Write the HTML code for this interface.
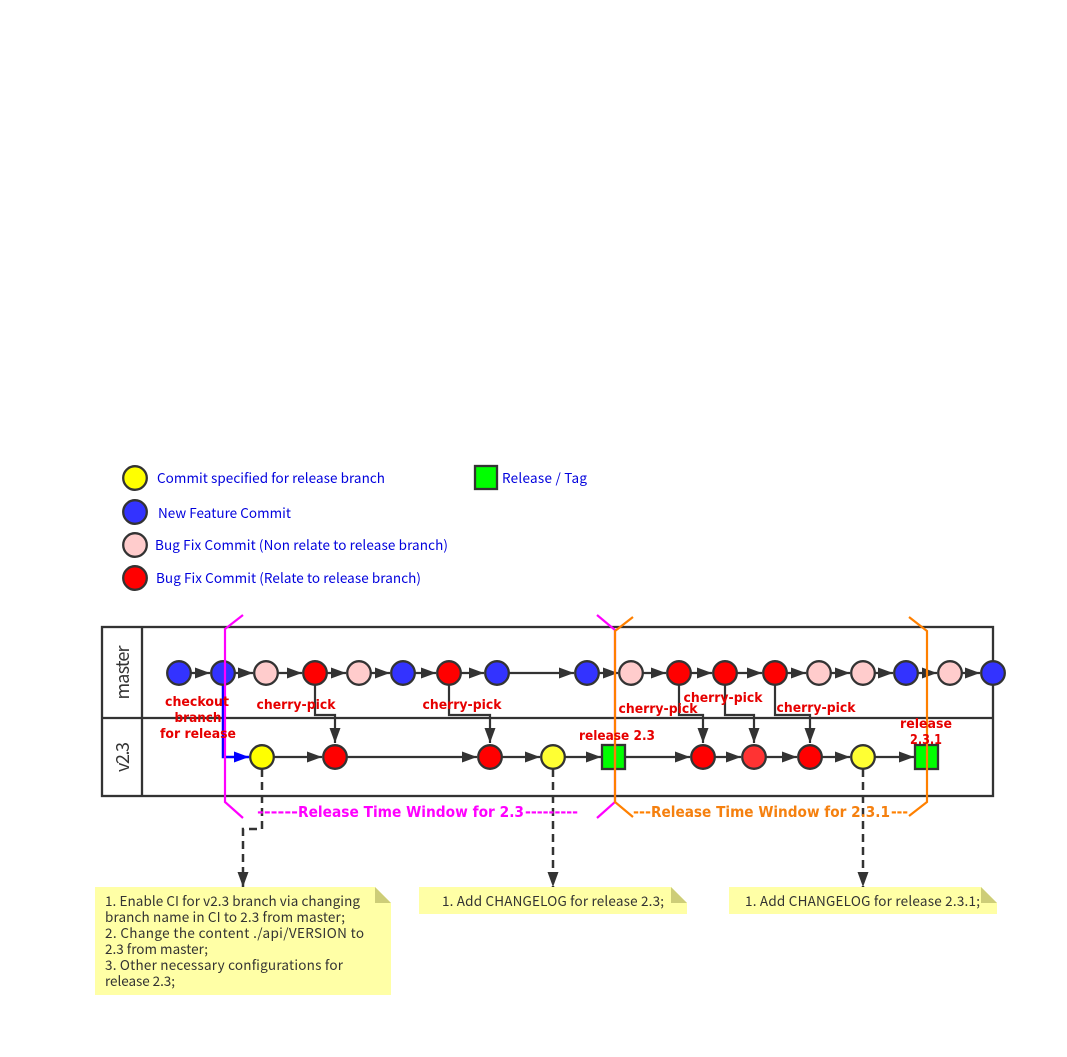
<!DOCTYPE html>
<html><head><meta charset="utf-8"><style>
html,body{margin:0;padding:0;background:#fff}
svg{display:block}
text{font-family:"DejaVu Sans","Liberation Sans",sans-serif}
.l{font-family:"Noto Sans CJK SC","DejaVu Sans",sans-serif;font-size:13.500px;fill:#0000dd}
.b{font-size:13.500px;font-weight:bold;fill:#e60000;text-anchor:middle}
.n{font-family:"Noto Sans CJK SC","DejaVu Sans",sans-serif;font-size:13.500px;fill:#333}
.e{stroke:#333;stroke-width:2.200;fill:none;marker-end:url(#a)}
.d{stroke:#333;stroke-width:2.500;fill:none;stroke-dasharray:8 5;marker-end:url(#a)}
.c{stroke:#333;stroke-width:2.300}
.w{font-size:15px;font-weight:bold}
</style></head><body>
<svg width="1067" height="1057" viewBox="0 0 1067 1057" xmlns="http://www.w3.org/2000/svg">
<defs>
<marker id="a" markerUnits="userSpaceOnUse" markerWidth="16" markerHeight="12" refX="15" refY="6" orient="auto"><path d="M0 .5L15 6L0 11.500z" fill="#333"/></marker>
<marker id="ab" markerUnits="userSpaceOnUse" markerWidth="16" markerHeight="12" refX="15" refY="6" orient="auto"><path d="M0 .5L15 6L0 11.500z" fill="#00f"/></marker>
</defs>

<!-- legend -->
<g class="c">
<circle cx="135" cy="478" r="11.800" fill="#ff0"/>
<circle cx="135" cy="512" r="11.800" fill="#33f"/>
<circle cx="135" cy="545" r="11.800" fill="#fcc"/>
<circle cx="135" cy="578" r="11.800" fill="#f00"/>
<rect x="475" y="466" width="22" height="23" fill="#0f0"/>
</g>
<text class="l" x="157" y="483" textLength="228" lengthAdjust="spacing">Commit specified for release branch</text>
<text class="l" x="158" y="518" textLength="133" lengthAdjust="spacing">New Feature Commit</text>
<text class="l" x="155" y="550" textLength="293" lengthAdjust="spacing">Bug Fix Commit (Non relate to release branch)</text>
<text class="l" x="156" y="583" textLength="265" lengthAdjust="spacing">Bug Fix Commit (Relate to release branch)</text>
<text class="l" x="502" y="483" textLength="85" lengthAdjust="spacing">Release / Tag</text>

<!-- pool -->
<g fill="none" stroke="#333" stroke-width="2.300">
<rect x="102" y="627" width="891" height="169"/>
<path d="M142 627V796M102 718H993"/>
</g>
<text transform="translate(129 672.500) rotate(-90)" text-anchor="middle" fill="#333" style="font-family:'Noto Sans CJK SC','DejaVu Sans',sans-serif;font-size:18px" textLength="54" lengthAdjust="spacing">master</text>
<text transform="translate(129 757) rotate(-90)" text-anchor="middle" fill="#333" style="font-family:'Noto Sans CJK SC','DejaVu Sans',sans-serif;font-size:18px" textLength="30" lengthAdjust="spacing">v2.3</text>

<!-- master edges -->
<path class="e" d="M191 673H210"/><path class="e" d="M235 673H253"/><path class="e" d="M278 673H302"/>
<path class="e" d="M327 673H346"/><path class="e" d="M371 673H390"/><path class="e" d="M415 673H436"/>
<path class="e" d="M461 673H484"/><path class="e" d="M509 673H574"/><path class="e" d="M599 673H618"/>
<path class="e" d="M643 673H666"/><path class="e" d="M691 673H712"/><path class="e" d="M737 673H762"/>
<path class="e" d="M787 673H806"/><path class="e" d="M831 673H850"/><path class="e" d="M875 673H893"/>
<path class="e" d="M918 673H937"/><path class="e" d="M962 673H980"/>
<!-- v2.3 edges -->
<path class="e" d="M274 757H322"/><path class="e" d="M347 757H477"/><path class="e" d="M502 757H540"/>
<path class="e" d="M565 757H601"/><path class="e" d="M625 757H690"/><path class="e" d="M715 757H741"/>
<path class="e" d="M766 757H797"/><path class="e" d="M822 757H850"/><path class="e" d="M875 757H914"/>
<!-- cherry-pick -->
<path class="e" d="M315 685V715H335V743"/><path class="e" d="M449 685V715H490V743"/>
<path class="e" d="M679 685V715H703V743"/><path class="e" d="M725 685V715H754V743"/>
<path class="e" d="M775 685V715H810V743"/>
<!-- branch -->
<path d="M223 685V757H249" fill="none" stroke="#00f" stroke-width="2.500" marker-end="url(#ab)"/>
<!-- dashed -->
<path class="d" d="M262 769V829H243V887"/><path class="d" d="M553 769V887"/><path class="d" d="M863 769V887"/>

<!-- nodes -->
<g class="c">
<circle cx="179" cy="673" r="11.800" fill="#33f"/><circle cx="223" cy="673" r="11.800" fill="#33f"/>
<circle cx="266" cy="673" r="11.800" fill="#fcc"/><circle cx="315" cy="673" r="11.800" fill="#f00"/>
<circle cx="359" cy="673" r="11.800" fill="#fcc"/><circle cx="403" cy="673" r="11.800" fill="#33f"/>
<circle cx="449" cy="673" r="11.800" fill="#f00"/><circle cx="497" cy="673" r="11.800" fill="#33f"/>
<circle cx="587" cy="673" r="11.800" fill="#33f"/><circle cx="631" cy="673" r="11.800" fill="#fcc"/>
<circle cx="679" cy="673" r="11.800" fill="#f00"/><circle cx="725" cy="673" r="11.800" fill="#f00"/>
<circle cx="775" cy="673" r="11.800" fill="#f00"/><circle cx="819" cy="673" r="11.800" fill="#fcc"/>
<circle cx="863" cy="673" r="11.800" fill="#fcc"/><circle cx="906" cy="673" r="11.800" fill="#33f"/>
<circle cx="950" cy="673" r="11.800" fill="#fcc"/><circle cx="993" cy="673" r="11.800" fill="#33f"/>
<circle cx="262" cy="757" r="11.800" fill="#ff0"/><circle cx="335" cy="757" r="11.800" fill="#f00"/>
<circle cx="490" cy="757" r="11.800" fill="#f00"/><circle cx="553" cy="757" r="11.800" fill="#ff3"/>
<rect x="602" y="745" width="23" height="24" fill="#0f0"/>
<circle cx="703" cy="757" r="11.800" fill="#f00"/><circle cx="754" cy="757" r="11.800" fill="#f33"/>
<circle cx="810" cy="757" r="11.800" fill="#f00"/><circle cx="863" cy="757" r="11.800" fill="#ff3"/>
<rect x="915" y="745" width="23" height="24" fill="#0f0"/>
</g>

<!-- window brackets -->
<g fill="none" stroke-width="2.200">
<path d="M243 615L225 629V802L243 818" stroke="#f0f"/>
<path d="M597 615L615 630V802L597 818" stroke="#f0f"/>
<path d="M633 617L615 631V802L633 817" stroke="#ff8000"/>
<path d="M909 617L927 631V802L909 816" stroke="#ff8000"/>
</g>

<!-- labels -->
<text class="b" x="197" y="706" textLength="64" lengthAdjust="spacingAndGlyphs">checkout</text>
<text class="b" x="198" y="722" textLength="47" lengthAdjust="spacingAndGlyphs">branch</text>
<text class="b" x="198" y="738" textLength="76" lengthAdjust="spacingAndGlyphs">for release</text>
<text class="b" x="296" y="709" textLength="79" lengthAdjust="spacingAndGlyphs">cherry-pick</text>
<text class="b" x="462" y="709" textLength="79" lengthAdjust="spacingAndGlyphs">cherry-pick</text>
<text class="b" x="658" y="713" textLength="79" lengthAdjust="spacingAndGlyphs">cherry-pick</text>
<text class="b" x="723" y="702" textLength="79" lengthAdjust="spacingAndGlyphs">cherry-pick</text>
<text class="b" x="816" y="712" textLength="79" lengthAdjust="spacingAndGlyphs">cherry-pick</text>
<text class="b" x="617" y="740" textLength="76" lengthAdjust="spacingAndGlyphs">release 2.3</text>
<text class="b" x="926" y="728" textLength="52" lengthAdjust="spacingAndGlyphs">release</text>
<text class="b" x="926" y="744" textLength="32" lengthAdjust="spacingAndGlyphs">2.3.1</text>
<text class="w" x="257" y="817" fill="#f0f" textLength="41" lengthAdjust="spacingAndGlyphs">------</text>
<text class="w" x="298" y="817" fill="#f0f" textLength="226" lengthAdjust="spacingAndGlyphs">Release Time Window for 2.3</text>
<text class="w" x="525" y="817" fill="#f0f" textLength="53" lengthAdjust="spacingAndGlyphs">---------</text>
<text class="w" x="633" y="817" fill="#ff8000" textLength="18" lengthAdjust="spacingAndGlyphs">---</text>
<text class="w" x="651" y="817" fill="#f5800f" textLength="239" lengthAdjust="spacingAndGlyphs">Release Time Window for 2.3.1</text>
<text class="w" x="891" y="817" fill="#ff8000" textLength="17" lengthAdjust="spacingAndGlyphs">---</text>

<!-- notes -->
<path d="M95 887H375L391 903V995H95z" fill="#ffffa6"/><path d="M375 887V903H391z" fill="#cdcd78"/>
<path d="M419 887H671L687 903V914H419z" fill="#ffffa6"/><path d="M671 887V903H687z" fill="#cdcd78"/>
<path d="M729 887H981L997 903V914H729z" fill="#ffffa6"/><path d="M981 887V903H997z" fill="#cdcd78"/>
<text class="n" x="105" y="906" textLength="255" lengthAdjust="spacing">1. Enable CI for v2.3 branch via changing</text>
<text class="n" x="105" y="922" textLength="240" lengthAdjust="spacing">branch name in CI to 2.3 from master;</text>
<text class="n" x="105" y="938" textLength="259" lengthAdjust="spacing">2. Change the content ./api/VERSION to</text>
<text class="n" x="105" y="954" textLength="103" lengthAdjust="spacing">2.3 from master;</text>
<text class="n" x="105" y="970" textLength="238" lengthAdjust="spacing">3. Other necessary configurations for</text>
<text class="n" x="105" y="986" textLength="70" lengthAdjust="spacing">release 2.3;</text>
<text class="n" x="442" y="906" textLength="222" lengthAdjust="spacing">1. Add CHANGELOG for release 2.3;</text>
<text class="n" x="745" y="906" textLength="235" lengthAdjust="spacing">1. Add CHANGELOG for release 2.3.1;</text>
</svg>
</body></html>
